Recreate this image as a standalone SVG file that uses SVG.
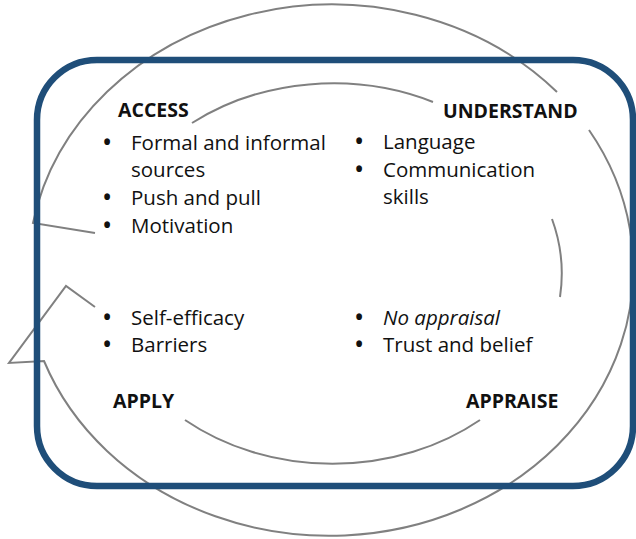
<svg xmlns="http://www.w3.org/2000/svg" width="636" height="539" viewBox="0 0 636 539">
<style>
.arc{fill:none;stroke:#808080;stroke-width:2;stroke-linejoin:miter}
.frame{fill:none;stroke:#1f4e79;stroke-width:6.5}
.h{font-family:"Open Sans","Liberation Sans",sans-serif;font-weight:bold;font-size:19.5px;fill:#111}
.t{font-family:"Open Sans","Liberation Sans",sans-serif;font-size:20.5px;fill:#111}
.b{font-weight:bold;text-anchor:middle}
</style>
<rect width="636" height="539" fill="#fff"/>
<g id="connectors">
<path class="arc" d="M95,233 L33,223 A304,267 0 0,1 557,92"/>
<path class="arc" d="M95,307 L66,286 L9,363 L44,361 A304,267 0 1,0 589,130"/>
<path class="arc" d="M192,123 A231,190 0 0,1 433,102"/>
<path class="arc" d="M552,219 A231,190 0 0,1 560,297"/>
<path class="arc" d="M480,420 A231,190 0 0,1 185,420"/>
</g>
<rect id="frame" class="frame" x="37" y="60" width="596" height="426" rx="60" ry="60"/>
<g id="access">
<text class="h" x="118" y="117">ACCESS</text>
<text class="t" y="150"><tspan class="b" x="107">•</tspan><tspan x="131">Formal and informal</tspan></text>
<text class="t" x="131" y="177">sources</text>
<text class="t" y="205"><tspan class="b" x="107">•</tspan><tspan x="131">Push and pull</tspan></text>
<text class="t" y="233"><tspan class="b" x="107">•</tspan><tspan x="131">Motivation</tspan></text>
</g>
<g id="understand">
<text class="h" x="443" y="118">UNDERSTAND</text>
<text class="t" y="149"><tspan class="b" x="359">•</tspan><tspan x="383">Language</tspan></text>
<text class="t" y="177"><tspan class="b" x="359">•</tspan><tspan x="383">Communication</tspan></text>
<text class="t" x="383" y="204">skills</text>
</g>
<g id="apply">
<text class="t" y="325"><tspan class="b" x="107">•</tspan><tspan x="131">Self-efficacy</tspan></text>
<text class="t" y="352"><tspan class="b" x="107">•</tspan><tspan x="131">Barriers</tspan></text>
<text class="h" x="113" y="408">APPLY</text>
</g>
<g id="appraise">
<text class="t" y="325"><tspan class="b" x="359">•</tspan><tspan x="383" font-style="italic">No appraisal</tspan></text>
<text class="t" y="352"><tspan class="b" x="359">•</tspan><tspan x="383">Trust and belief</tspan></text>
<text class="h" x="466" y="408">APPRAISE</text>
</g>
</svg>
